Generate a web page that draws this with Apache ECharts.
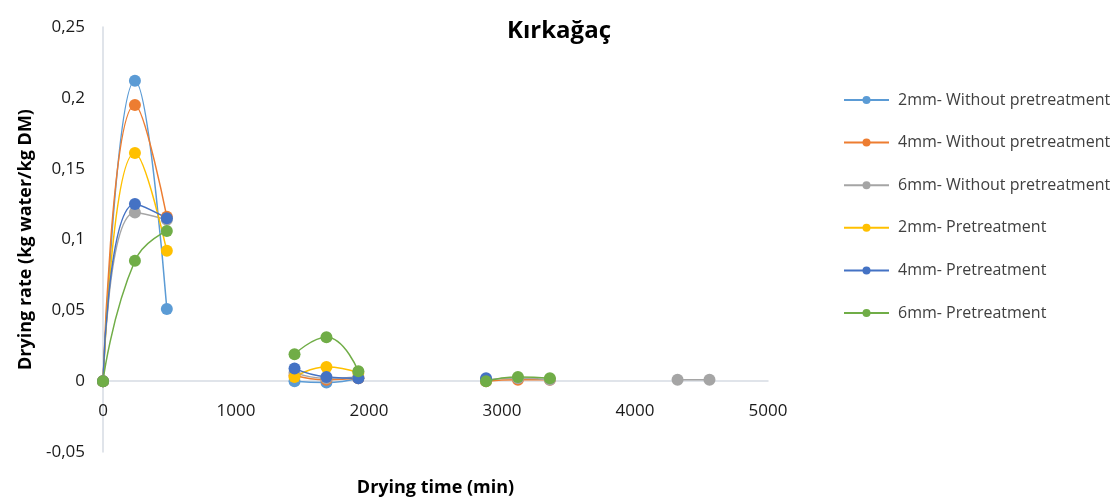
<!DOCTYPE html>
<html>
<head>
<meta charset="utf-8">
<script src="https://cdn.jsdelivr.net/npm/echarts@6/dist/echarts.min.js"></script>
<style>
  html, body { margin: 0; padding: 0; background: #fff; }
  #chart { width: 1115px; height: 497px; }
</style>
</head>
<body>
<div id="chart"></div>
<script>
// drying time (min) for every measured point
const timeMin = [0, 240, 480, 1440, 1680, 1920, 2880, 3120, 3360, 4320, 4560]
// the curve is broken between these blocks of indices (overnight gaps)
const blocks = [[0, 1, 2], [3, 4, 5], [6, 7, 8], [9, 10]]

const seriesNames = [
  '2mm- Without pretreatment',
  '4mm- Without pretreatment',
  '6mm- Without pretreatment',
  '2mm- Pretreatment',
  '4mm- Pretreatment',
  '6mm- Pretreatment'
]
const w2 = [0, 0.212, 0.051, 0.000, -0.001, 0.002, null, null, null, null, null]
const w4 = [0, 0.195, 0.116, 0.004, 0.001, 0.002, 0.000, 0.001, 0.001, null, null]
const w6 = [0, 0.119, 0.114, 0.006, 0.002, 0.003, 0.001, 0.002, 0.001, 0.001, 0.001]
const p2 = [0, 0.161, 0.092, 0.003, 0.010, 0.006, null, null, null, null, null]
const p4 = [0, 0.125, 0.115, 0.009, 0.003, 0.002, 0.002, null, null, null, null]
const p6 = [0, 0.085, 0.106, 0.019, 0.031, 0.007, 0.000, 0.003, 0.002, null, null]
const seriesValues = [w2, w4, w6, p2, p4, p6]
const colors = ['#5B9BD5', '#ED7D31', '#A5A5A5', '#FFC000', '#4472C4', '#70AD47']

const yTicks = [-0.05, 0, 0.05, 0.1, 0.15, 0.2, 0.25]

const font = '"Open Sans", Lato, sans-serif'

function toData(vals) {
  const out = []
  blocks.forEach((b, bi) => {
    b.forEach(i => {
      if (vals[i] !== null) out.push([timeMin[i], vals[i]])
    })
    if (bi < blocks.length - 1) out.push(null)
  })
  return out
}

const chart = echarts.init(document.getElementById('chart'))

chart.setOption({
  animation: false,
  color: colors,
  title: {
    text: 'Kırkağaç',
    left: 554,
    textAlign: 'center',
    top: 14,
    textStyle: { fontFamily: font, fontSize: 24, fontWeight: 'bold', color: '#000' }
  },
  legend: {
    orient: 'vertical',
    left: 843,
    top: 92,
    padding: 0,
    itemWidth: 45,
    itemHeight: 10,
    itemGap: 26.6,
    textStyle: { fontFamily: font, fontSize: 16, color: '#404040', padding: [0, 0, 0, 4] },
    data: seriesNames
  },
  grid: { left: 103, right: 347, top: 27, bottom: 45, outerBoundsMode: 'none', containLabel: false },
  xAxis: {
    type: 'value',
    min: 0,
    max: 5000,
    interval: 1000,
    name: 'Drying time (min)',
    nameLocation: 'middle',
    nameGap: 27,
    nameTextStyle: { fontFamily: font, fontSize: 18, fontWeight: 'bold', color: '#000' },
    axisLine: { onZero: true, lineStyle: { color: '#d6dbe3', width: 1.5 } },
    axisTick: { show: false },
    splitLine: { show: false },
    axisLabel: { margin: -49, fontFamily: font, fontSize: 17, color: '#1a1a1a', formatter: v => String(v) }
  },
  yAxis: {
    type: 'value',
    min: yTicks[0],
    max: yTicks[yTicks.length - 1],
    interval: 0.05,
    name: 'Drying rate (kg water/kg DM)',
    nameLocation: 'middle',
    nameGap: 68,
    nameTextStyle: { fontFamily: font, fontSize: 18, fontWeight: 'bold', color: '#000' },
    axisLine: { show: true, lineStyle: { color: '#d6dbe3', width: 1.5 } },
    axisTick: { show: false },
    splitLine: { show: false },
    axisLabel: {
      margin: 18,
      fontFamily: font,
      fontSize: 17,
      color: '#1a1a1a',
      formatter: v => String(Math.round(v * 100) / 100).replace('.', ',')
    }
  },
  series: seriesNames.map((name, i) => ({
    name: name,
    type: 'line',
    smooth: 0.5,
    connectNulls: false,
    symbol: 'circle',
    symbolSize: 12,
    lineStyle: { width: 1.5 },
    data: toData(seriesValues[i])
  }))
})
</script>
</body>
</html>
